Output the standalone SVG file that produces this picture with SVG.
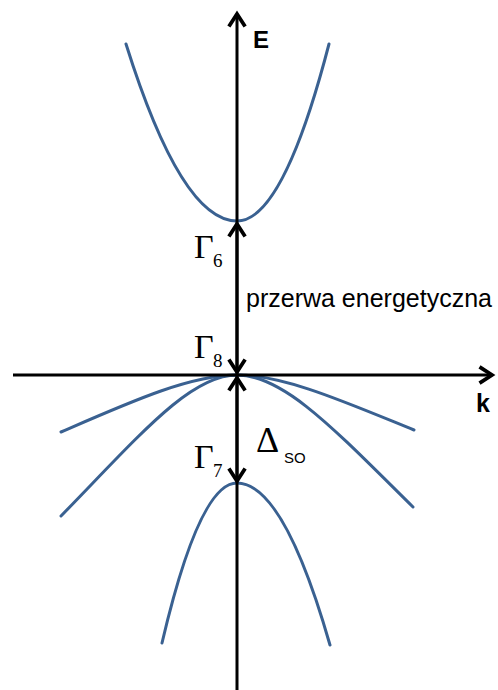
<svg xmlns="http://www.w3.org/2000/svg" width="498" height="690" viewBox="0 0 498 690">
<style>
.axis{stroke:#000;stroke-width:3;fill:none}
.band{stroke:#3a6191;stroke-width:3;fill:none;stroke-linecap:round}
.lbl{font-family:"Liberation Sans",Arial,sans-serif;fill:#000}
.gam{font-family:"Liberation Serif","Times New Roman",serif;fill:#000}
</style>
<defs>
<marker id="chev" markerUnits="userSpaceOnUse" markerWidth="20" markerHeight="20" viewBox="-12 -8 14 16" refX="0" refY="0" orient="auto">
<path d="M-10,-6.5 L0,0 L-10,6.5" fill="none" stroke="#000" stroke-width="3"/>
</marker>
</defs>
<rect width="498" height="690" fill="#fff"/>
<g id="bands">
<g id="conduction"><path class="band" d="M126,44 Q181.5,221 237,221 Q283,221 329,44"/></g>
<g id="lighthole"><path class="band" d="M61,432 C130,402 190,375 237,375 C284,375 345,402 414,430"/></g>
<g id="heavyhole"><path class="band" d="M61,516 C140,435 190,375 237,375 C284,375 335,430 413,507"/></g>
<g id="splitoff"><path class="band" d="M162,643 Q199.5,483 237,483 Q283.5,483 330,645"/></g>
</g>
<g id="connectors">
<line class="axis" x1="237" y1="690" x2="237" y2="14" marker-end="url(#chev)"/>
<line class="axis" x1="13" y1="375" x2="492" y2="375" marker-end="url(#chev)"/>
<line class="axis" x1="237" y1="300" x2="237" y2="224" marker-end="url(#chev)"/>
<line class="axis" x1="237" y1="300" x2="237" y2="372" marker-end="url(#chev)"/>
<line class="axis" x1="237" y1="430" x2="237" y2="378" marker-end="url(#chev)"/>
<line class="axis" x1="237" y1="430" x2="237" y2="481" marker-end="url(#chev)"/>
</g>
<g id="labels">
<text class="lbl" x="253" y="48" font-size="24" font-weight="bold">E</text>
<text class="lbl" x="476" y="412" font-size="25" font-weight="bold">k</text>
<text class="lbl" x="246" y="307" font-size="25">przerwa energetyczna</text>
<g id="gamma6"><text class="gam" x="194" y="258" font-size="34">Γ</text><text class="gam" x="213" y="267" font-size="19">6</text></g>
<g id="gamma8"><text class="gam" x="194" y="358" font-size="34">Γ</text><text class="gam" x="213" y="367" font-size="19">8</text></g>
<g id="gamma7"><text class="gam" x="194" y="468" font-size="34">Γ</text><text class="gam" x="213" y="477" font-size="19">7</text></g>
<g id="deltaso"><text class="gam" x="256" y="452" font-size="36">Δ</text><text class="lbl" x="284" y="463" font-size="15">SO</text></g>
</g>
</svg>
